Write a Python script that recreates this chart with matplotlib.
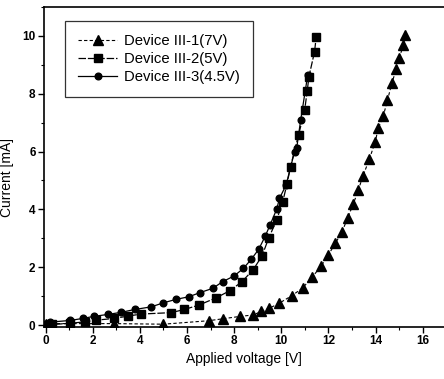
import matplotlib
matplotlib.use("Agg")
import matplotlib.pyplot as plt
from matplotlib.ticker import MultipleLocator

plt.rcParams['font.family'] = ['Liberation Sans', 'DejaVu Sans']

# Device III-1 (7V) - triangles
v1 = [0.0, 0.25, 2.9, 5.0, 6.92, 7.54, 8.25, 8.81, 9.14, 9.49, 9.92, 10.45, 10.9, 11.3,
      11.68, 12.0, 12.29, 12.57, 12.81, 13.05, 13.26, 13.47, 13.73, 13.98, 14.11,
      14.32, 14.5, 14.69, 14.87, 15.0, 15.17, 15.25]
i1 = [0.05, 0.05, 0.05, 0.03, 0.15, 0.22, 0.3, 0.35, 0.47, 0.58, 0.76, 1.02, 1.28, 1.65,
      2.03, 2.43, 2.83, 3.21, 3.7, 4.18, 4.66, 5.17, 5.73, 6.33, 6.8,
      7.22, 7.77, 8.37, 8.84, 9.23, 9.67, 10.02]

# Device III-2 (5V) - squares
v2 = [0.0, 0.28, 1.02, 1.65, 2.15, 2.92, 3.49, 4.05, 5.33, 5.89, 6.5, 7.23, 7.82, 8.33,
      8.81, 9.18, 9.46, 9.8, 10.06, 10.24, 10.39, 10.73, 10.99, 11.1, 11.17, 11.41, 11.48]
i2 = [0.0, 0.02, 0.06, 0.11, 0.17, 0.23, 0.31, 0.38, 0.43, 0.54, 0.69, 0.94, 1.19, 1.5,
      1.92, 2.39, 3.0, 3.63, 4.27, 4.88, 5.48, 6.57, 7.44, 8.11, 8.59, 9.46, 9.98]

# Device III-3 (4.5V) - circles
v3 = [0.0, 0.17, 1.05, 1.58, 2.04, 2.66, 3.2, 3.79, 4.48, 5.0, 5.54, 6.08, 6.54, 7.09,
      7.51, 8.0, 8.39, 8.72, 9.04, 9.32, 9.52, 9.8, 9.92, 10.2, 10.56, 10.65, 10.82, 11.12]
i3 = [0.05, 0.1, 0.16, 0.23, 0.3, 0.37, 0.44, 0.54, 0.63, 0.77, 0.89, 0.98, 1.12, 1.27,
      1.5, 1.7, 1.96, 2.27, 2.62, 3.08, 3.46, 4.0, 4.38, 4.84, 6.0, 6.11, 7.09, 8.65]

labels = ['Device III-1(7V)', 'Device III-2(5V)', 'Device III-3(4.5V)']
x_ticks = [0, 2, 4, 6, 8, 10, 12, 14, 16]
y_ticks = [0, 2, 4, 6, 8, 10]

fig = plt.figure(figsize=(4.44, 3.79), dpi=100)
ax = fig.add_axes([0.099, 0.1385, 0.901, 0.843])

ax.plot(v1, i1, color='black', marker='^', markersize=6.5, lw=0.8,
        linestyle=(0, (3, 2)), label=labels[0])
ax.plot(v2, i2, color='black', marker='s', markersize=5.3, lw=0.9,
        linestyle=(0, (6, 1.5)), label=labels[1])
ax.plot(v3, i3, color='black', marker='o', markersize=4.8, lw=0.9,
        linestyle='-', label=labels[2])

ax.set_xlim(-0.07, 16.9)
ax.set_ylim(-0.05, 11.0)
ax.set_xticks(x_ticks)
ax.set_yticks(y_ticks)
ax.xaxis.set_minor_locator(MultipleLocator(1))
ax.yaxis.set_minor_locator(MultipleLocator(1))
ax.tick_params(which='major', direction='out', length=4, width=1.0,
               labelsize=8.5, pad=2)
ax.tick_params(which='minor', direction='out', length=2, width=0.8)
for lab in ax.get_xticklabels() + ax.get_yticklabels():
    lab.set_fontweight('bold')

for s in ['left', 'bottom', 'top']:
    ax.spines[s].set_linewidth(1.2)
ax.spines['right'].set_visible(False)

ax.set_xlabel('Applied voltage [V]', fontsize=10, labelpad=4)
ax.set_ylabel('Current [mA]', fontsize=10)
ax.yaxis.set_label_coords(-0.075, 0.465)

leg = ax.legend(loc='upper left', bbox_to_anchor=(0.0525, 0.956), borderaxespad=0,
                fancybox=False, frameon=True, fontsize=10.7, handlelength=2.6,
                labelspacing=0.25, borderpad=0.9, handletextpad=0.45)
leg.get_frame().set_edgecolor('black')
leg.get_frame().set_linewidth(0.9)

fig.savefig('out.png', dpi=100)
